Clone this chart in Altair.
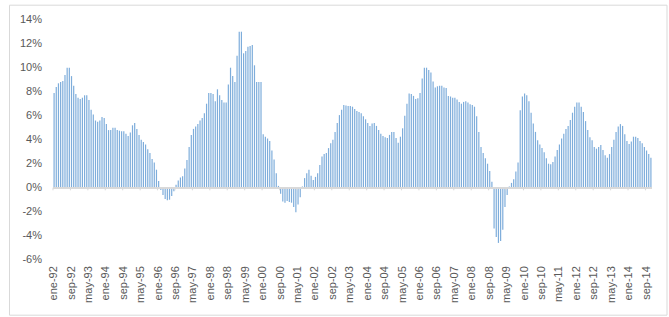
import altair as alt
import pandas as pd

MESES = ["ene", "feb", "mar", "abr", "may", "jun", "jul", "ago", "sep", "oct", "nov", "dic"]
ANIO_INICIO = 1992

# Variación anual (%), un renglón por año (ene ... dic); 2014 llega hasta noviembre
VARIACION = [
    7.9, 8.4, 8.7, 8.8, 8.9, 9.4, 10.0, 10.0, 9.3, 8.5, 7.8, 7.5,        # 1992
    7.4, 7.5, 7.7, 7.7, 7.3, 6.5, 6.1, 5.6, 5.5, 5.6, 5.9, 5.8,          # 1993
    5.3, 4.8, 4.8, 5.0, 5.0, 4.8, 4.75, 4.7, 4.7, 4.5, 4.3, 4.6,         # 1994
    5.2, 5.4, 4.9, 4.4, 4.0, 3.8, 3.6, 3.2, 2.9, 2.4, 2.1, 1.5,          # 1995
    0.55, -0.2, -0.6, -0.95, -1.05, -1.0, -0.7, -0.3, 0.25, 0.6, 0.85, 0.95,  # 1996
    1.6, 2.3, 3.4, 4.4, 4.9, 5.1, 5.3, 5.6, 5.8, 6.2, 7.0, 7.9,          # 1997
    7.9, 7.8, 7.2, 8.2, 7.7, 7.3, 7.1, 7.1, 8.6, 10.0, 9.3, 8.8,         # 1998
    11.0, 13.0, 13.0, 11.2, 11.4, 11.75, 11.8, 11.9, 10.2, 8.8, 8.8, 8.8,  # 1999
    4.45, 4.25, 4.1, 3.9, 3.1, 2.35, 1.2, 0.15, -0.5, -1.15, -1.25, -1.1,  # 2000
    -1.2, -1.25, -1.6, -2.05, -1.4, -0.8, 0.1, 0.8, 1.2, 1.5, 1.0, 0.65,   # 2001
    0.9, 1.2, 1.9, 2.6, 2.8, 2.9, 3.3, 3.7, 4.0, 4.65, 5.4, 6.05,        # 2002
    6.5, 6.9, 6.85, 6.8, 6.8, 6.75, 6.55, 6.4, 6.3, 6.2, 5.95, 5.7,      # 2003
    5.4, 5.15, 5.35, 5.4, 5.15, 4.8, 4.5, 4.3, 4.2, 4.15, 4.4, 4.65,     # 2004
    4.65, 4.15, 3.75, 4.25, 4.95, 6.0, 7.0, 7.85, 7.8, 7.65, 7.4, 7.45,  # 2005
    7.9, 9.1, 10.0, 10.0, 9.8, 9.6, 8.85, 8.35, 8.45, 8.5, 8.5, 8.35,    # 2006
    8.3, 7.65, 7.6, 7.5, 7.5, 7.35, 7.15, 7.0, 7.15, 7.2, 7.1, 6.95,     # 2007
    6.9, 6.75, 5.95, 4.65, 3.4, 2.9, 2.45, 2.0, 1.4, 0.5, -3.4, -4.1,    # 2008
    -4.6, -4.45, -3.5, -1.6, -0.6, 0.1, 0.4, 0.7, 1.35, 2.1, 6.45, 7.6,  # 2009
    7.85, 7.7, 7.2, 6.25, 5.35, 4.65, 3.95, 3.6, 3.3, 2.95, 2.45, 2.0,   # 2010
    1.95, 2.15, 2.6, 3.15, 3.6, 4.1, 4.5, 4.9, 5.15, 5.65, 6.25, 6.75,   # 2011
    7.1, 7.1, 6.75, 6.3, 5.55, 4.8, 4.2, 3.95, 3.4, 3.25, 3.4, 3.55,     # 2012
    3.15, 2.7, 2.5, 2.8, 3.4, 4.0, 4.65, 5.1, 5.3, 5.15, 4.45, 3.9,      # 2013
    3.65, 3.85, 4.25, 4.25, 4.15, 3.9, 3.7, 3.4, 3.1, 2.8, 2.5,          # 2014
]

PASO_ETIQUETAS = 8          # una etiqueta cada 8 meses
EJE_Y = list(range(-6, 16, 2))

periodos = [
    f"{MESES[i % 12]}-{str(ANIO_INICIO + i // 12)[2:]}" for i in range(len(VARIACION))
]
etiquetas = periodos[::PASO_ETIQUETAS]

df = pd.DataFrame({"idx": range(len(VARIACION)), "periodo": periodos, "valor": VARIACION})
df_y = pd.DataFrame({"v": EJE_Y, "texto": [f"{v}%" for v in EJE_Y]})

FUENTE = "Liberation Sans"
GRIS_TEXTO = "#595959"
GRIS_LINEA = "#D9D9D9"
AZUL = "#7EADDB"

W, H = 599, 240

escala_x = alt.Scale(domain=periodos, paddingInner=0, paddingOuter=0)
escala_y = alt.Scale(domain=[-6, 14], nice=False, zero=False)

eje_x = alt.Axis(
    values=etiquetas, labelAngle=270, ticks=False, domain=False, grid=False,
    labelPadding=6, labelFont=FUENTE, labelFontSize=11, labelColor=GRIS_TEXTO,
    title=None, labelOverlap=False,
)
eje_y = alt.Axis(labels=False, ticks=False, domain=False, grid=False, title=None)

base = alt.Chart(df)

barras = base.mark_bar(width=1.2, color=AZUL).encode(
    x=alt.X("periodo:N", scale=escala_x, axis=eje_x),
    y=alt.Y("valor:Q", scale=escala_y, axis=eje_y),
)

# Etiquetas del eje vertical (porcentajes), alineadas a la derecha
etiquetas_y = alt.Chart(df_y).mark_text(
    align="right", baseline="middle", font=FUENTE, fontSize=11, color=GRIS_TEXTO
).encode(
    x=alt.value(-11),
    y=alt.Y("v:Q", scale=escala_y, axis=eje_y),
    text="texto:N",
)

linea_cero = base.mark_rule(color=GRIS_LINEA, strokeWidth=1).encode(
    y=alt.datum(0),
)

marcas = base.transform_filter(f"datum.idx % {PASO_ETIQUETAS} == 0").mark_rule(
    color=GRIS_LINEA, strokeWidth=1
).encode(
    x=alt.X("periodo:N", scale=escala_x, bandPosition=0, axis=eje_x),
    y=alt.datum(0),
    y2=alt.datum(-0.22),
)

marco = alt.Chart(pd.DataFrame({"k": [0]})).mark_rect(
    fillOpacity=0, stroke=GRIS_LINEA, strokeWidth=1
).encode(
    x=alt.value(-43.5), x2=alt.value(614), y=alt.value(-14.5), y2=alt.value(295.5),
)

chart = alt.layer(barras, linea_cero, marcas, etiquetas_y, marco).properties(
    width=W, height=H,
    autosize=alt.AutoSizeParams(type="none"),
    padding={"left": 53, "top": 19.7, "right": 17, "bottom": 57.3},
    background="white",
).configure_view(
    stroke="transparent"
)

chart.save("out.html", embed_options={"renderer": "svg", "actions": False})
